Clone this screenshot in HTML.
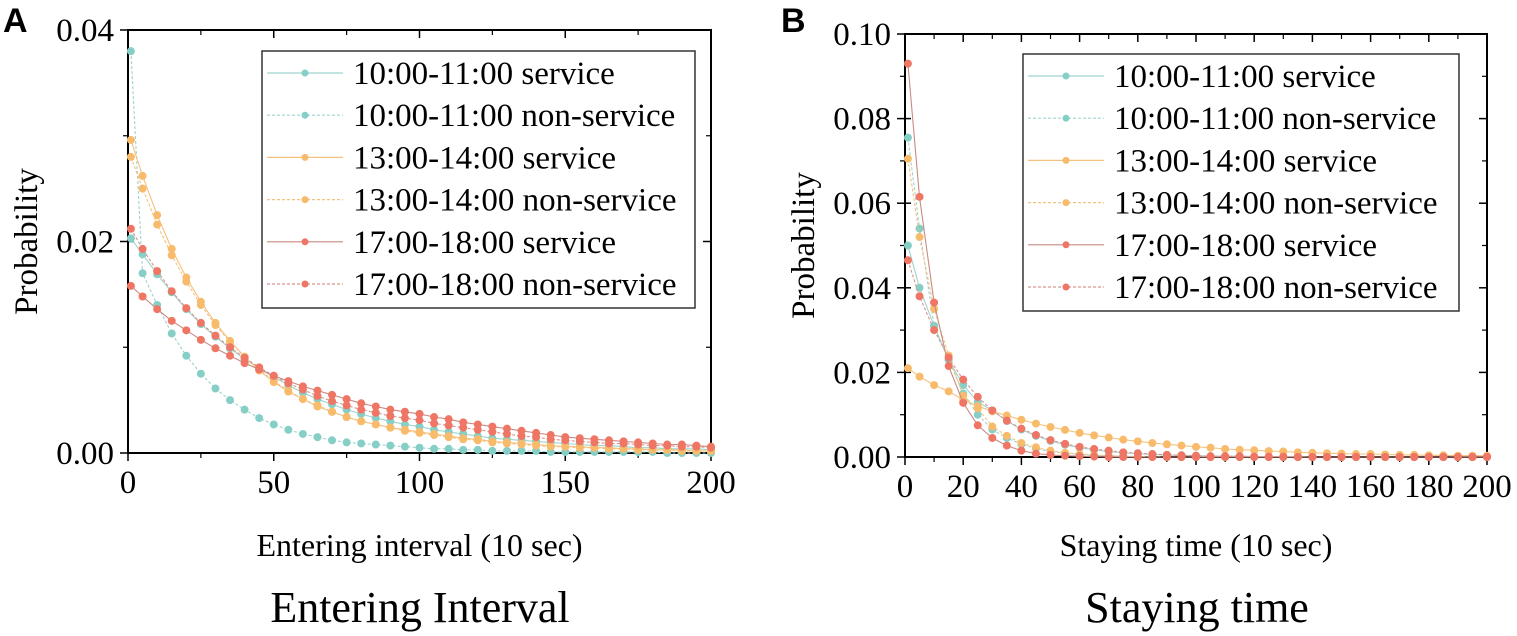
<!DOCTYPE html>
<html><head><meta charset="utf-8"><style>
html,body{margin:0;padding:0;background:#fff;}
svg{display:block;}
svg text{font-family:"Liberation Serif",serif;}
svg text.bold{font-family:"Liberation Sans",sans-serif;font-weight:bold;}
</style></head><body>
<svg id="fig" width="1517" height="636" viewBox="0 0 1517 636" xmlns="http://www.w3.org/2000/svg">
<text class="bold" x="3" y="32" font-size="34">A</text>
<text class="bold" x="781" y="32" font-size="34">B</text>
<g id="pa"></g>
<g id="pb"></g>
</svg>
<script>
const xs = [1,5,10,15,20,25,30,35,40,45,50,55,60,65,70,75,80,85,90,95,100,105,110,115,120,125,130,135,140,145,150,155,160,165,170,175,180,185,190,195,200];
const seriesNames = ["10:00-11:00 service","10:00-11:00 non-service","13:00-14:00 service","13:00-14:00 non-service","17:00-18:00 service","17:00-18:00 non-service"];
// Panel A values
const aTealS = [.0203,.0188,.0169,.0152,.0136,.0122,.0110,.0099,.0089,.0080,.0072,.0064,.0057,.0051,.0046,.0041,.0037,.0033,.0030,.0027,.0025,.0022,.0020,.0018,.0016,.0014,.0013,.0012,.0011,.0010,.0009,.0008,.0007,.0007,.0006,.0005,.0005,.0004,.0004,.0004,.0003];
const aTealN = [.0380,.0170,.0140,.0113,.0092,.0075,.0061,.0050,.0041,.0033,.0027,.0022,.0018,.0015,.0012,.0010,.0009,.0008,.0007,.0006,.0005,.0004,.0004,.0003,.0003,.0002,.0002,.0002,.0002,.0001,.0001,.0001,.0001,.0001,.0001,.0001,.0001,0,0,0,0];
const aOrgS = [.0296,.0262,.0225,.0193,.0166,.0143,.0123,.0106,.0091,.0078,.0067,.0058,.0051,.0044,.0039,.0034,.0030,.0027,.0024,.0022,.0020,.0018,.0016,.0014,.0013,.0011,.0010,.0009,.0008,.0007,.0006,.0006,.0005,.0005,.0004,.0004,.0003,.0003,.0003,.0002,.0002];
const aOrgN = [.0280,.0250,.0216,.0187,.0162,.0140,.0121,.0105,.0091,.0079,.0068,.0059,.0051,.0045,.0039,.0034,.0030,.0027,.0024,.0021,.0019,.0017,.0015,.0013,.0012,.0010,.0009,.0008,.0007,.0006,.0006,.0005,.0005,.0004,.0004,.0003,.0003,.0003,.0002,.0002,.0002];
const aRedS = [.0158,.0148,.0136,.0125,.0116,.0107,.0099,.0092,.0085,.0079,.0073,.0068,.0063,.0059,.0055,.0051,.0047,.0044,.0041,.0039,.0037,.0034,.0032,.0029,.0027,.0025,.0023,.0021,.0019,.0017,.0015,.0014,.0013,.0012,.0011,.0010,.0009,.0008,.0008,.0007,.0006];
const aRedN = [.0212,.0193,.0172,.0153,.0137,.0123,.0111,.0100,.0090,.0081,.0073,.0066,.0060,.0054,.0049,.0045,.0041,.0038,.0035,.0033,.0031,.0028,.0026,.0024,.0022,.0020,.0018,.0016,.0015,.0013,.0012,.0011,.0010,.0009,.0009,.0008,.0007,.0007,.0006,.0006,.0005];
// Panel B values
const bTealS = [.050,.040,.031,.023,.017,.013,.011,.0085,.0065,.0050,.0038,.0029,.0022,.0017,.0013,.0010,.0008,.0006,.0005,.0004,.0003,.0002,.0002,.0002,.0001,.0001,.0001,.0001,0,0,0,0,0,0,0,0,0,0,0,0,0];
const bTealN = [.0755,.054,.031,.023,.015,.010,.0065,.0045,.0030,.0020,.0013,.0009,.0006,.0004,.0003,.0002,.0001,.0001,0,0,0,0,0,0,0,0,0,0,0,0,0,0,0,0,0,0,0,0,0,0,0];
const bOrgS = [.021,.019,.017,.0155,.0135,.012,.0108,.0098,.0088,.0079,.0071,.0064,.0057,.0051,.0046,.0041,.0037,.0033,.0030,.0027,.0024,.0022,.0019,.0017,.0016,.0014,.0013,.0011,.0010,.0009,.0008,.0007,.0007,.0006,.0005,.0005,.0004,.0004,.0003,.0003,.0003];
const bOrgN = [.0705,.052,.035,.024,.0145,.0115,.0072,.0050,.0033,.0023,.0015,.0010,.0007,.0005,.0003,.0002,.0001,0,0,0,0,0,0,0,0,0,0,0,0,0,0,0,0,0,0,0,0,0,0,0,0];
const bRedS = [.093,.0615,.0365,.0215,.0128,.0075,.0045,.0027,.0015,.0008,.0005,.0003,.0002,.0001,0,0,0,0,0,0,0,0,0,0,0,0,0,0,0,0,0,0,0,0,0,0,0,0,0,0,0];
const bRedN = [.0465,.038,.030,.0235,.0183,.0142,.011,.0086,.0067,.0052,.0040,.0031,.0024,.0019,.0015,.0011,.0009,.0007,.0005,.0004,.0003,.0002,.0002,.0002,.0001,.0001,.0001,0,0,0,0,0,0,0,0,0,0,0,0,0,0];
const aYTicks = ["0.00","0.02","0.04"];
const aXTicks = ["0","50","100","150","200"];
const bYTicks = ["0.00","0.02","0.04","0.06","0.08","0.10"];
const bXTicks = ["0","20","40","60","80","100","120","140","160","180","200"];

const NS = "http://www.w3.org/2000/svg";
const SERIF = '"Liberation Serif", serif';
const styles = [
 {c:"#86cfc7", lc:"#9fd3cd", dash:null},
 {c:"#86cfc7", lc:"#9fd3cd", dash:"3,2"},
 {c:"#f8bb6c", lc:"#f5c17e", dash:null},
 {c:"#f8bb6c", lc:"#f5c17e", dash:"3,2"},
 {c:"#ef7565", lc:"#c98a82", dash:null},
 {c:"#ef7565", lc:"#d9958c", dash:"3,2"}
];
function mk(parent, tag, attrs, text){
  const e = document.createElementNS(NS, tag);
  for (const k in attrs) e.setAttribute(k, attrs[k]);
  if (tag === "text") e.setAttribute("font-family", SERIF);
  if (text !== undefined) e.textContent = text;
  parent.appendChild(e);
  return e;
}
function panel(g, cfg){
  const {L,R,T,B,xmax,ymax,xTicks,yTicks,xMinor,yMinor,series,legend,xTitle,title,titleX,xs2} = cfg;
  const sx = v => L + v/xmax*(R-L);
  const sy = v => B - v/ymax*(B-T);
  const frame = mk(g,"rect",{x:L,y:T,width:R-L,height:B-T,fill:"none",stroke:"#000","stroke-width":2});
  
  
  xTicks.forEach(t=>{
    const v = parseFloat(t), x = sx(v);
    mk(g,"line",{x1:x,y1:B,x2:x,y2:B+8,stroke:"#000","stroke-width":1.5});
    mk(g,"line",{x1:x,y1:T,x2:x,y2:T+8,stroke:"#000","stroke-width":1.5});
    const lb = mk(g,"text",{x:x,y:B+40,"text-anchor":"middle","font-size":33},t);
    
    
  });
  xMinor.forEach(v=>{
    const x = sx(v);
    mk(g,"line",{x1:x,y1:B,x2:x,y2:B+5,stroke:"#000","stroke-width":1.2});
    mk(g,"line",{x1:x,y1:T,x2:x,y2:T+5,stroke:"#000","stroke-width":1.2});
  });
  yTicks.forEach(t=>{
    const v = parseFloat(t), y = sy(v);
    mk(g,"line",{x1:L-8,y1:y,x2:L+6,y2:y,stroke:"#000","stroke-width":1.5});
    mk(g,"line",{x1:R-8,y1:y,x2:R,y2:y,stroke:"#000","stroke-width":1.5});
    const lb = mk(g,"text",{x:L-14,y:y+11,"text-anchor":"end","font-size":33},t);
    
    
  });
  yMinor.forEach(v=>{
    const y = sy(v);
    mk(g,"line",{x1:L-5,y1:y,x2:L,y2:y,stroke:"#000","stroke-width":1.2});
    mk(g,"line",{x1:R-5,y1:y,x2:R,y2:y,stroke:"#000","stroke-width":1.2});
  });
  series.forEach((arr,i)=>{
    const st = styles[i];
    const sg = mk(g,"g",{});
    
    
    const pts = arr.map((v,k)=>sx(xs2[k]).toFixed(1)+","+sy(v).toFixed(1)).join(" ");
    const pl = mk(sg,"polyline",{points:pts,fill:"none",stroke:st.lc,"stroke-width":1.1});
    if (st.dash) pl.setAttribute("stroke-dasharray",st.dash);
    
    
    arr.forEach((v,k)=>{
      const c = mk(sg,"circle",{cx:sx(xs2[k]),cy:sy(v),r:4,fill:st.c});
      
      
    });
  });
  const lg = mk(g,"g",{});
  
  
  mk(lg,"rect",{x:legend.x,y:legend.y,width:legend.w,height:legend.h,fill:"#fff",stroke:"#333","stroke-width":1.5});
  seriesNames.forEach((n,i)=>{
    const st = styles[i];
    const y = legend.y + 22 + i*42.2;
    const e = mk(lg,"g",{});
    
    
    const ln = mk(e,"line",{x1:legend.x+5,y1:y,x2:legend.x+81,y2:y,stroke:st.lc,"stroke-width":1.2});
    if (st.dash) ln.setAttribute("stroke-dasharray",st.dash);
    mk(e,"circle",{cx:legend.x+43,cy:y,r:3.5,fill:st.c});
    mk(e,"text",{x:legend.x+91,y:y+11,"font-size":33},n);
  });
  const yt = mk(g,"text",{x:0,y:0,"font-size":33,"text-anchor":"middle",transform:`translate(${L-91},${(T+B)/2}) rotate(-90)`},"Probability");
  
  
  const xt = mk(g,"text",{x:(L+R)/2,y:556,"font-size":32,"text-anchor":"middle"},xTitle);
  
  
  const tt = mk(g,"text",{x:titleX,y:622,"font-size":44,"text-anchor":"middle"},title);
  
  
}
panel(document.getElementById("pa"),{
  L:128,R:711,T:30,B:453,xmax:200,ymax:0.04,xs2:xs,
  xTicks:aXTicks,yTicks:aYTicks,xMinor:[25,75,125,175],yMinor:[0.01,0.03],
  series:[aTealS,aTealN,aOrgS,aOrgN,aRedS,aRedN],
  legend:{x:262,y:51,w:433,h:257},
  xTitle:"Entering interval (10 sec)",title:"Entering Interval",titleX:420
});
panel(document.getElementById("pb"),{
  L:905,R:1487,T:34,B:457,xmax:200,ymax:0.10,xs2:xs,
  xTicks:bXTicks,yTicks:bYTicks,xMinor:[10,30,50,70,90,110,130,150,170,190],yMinor:[0.01,0.03,0.05,0.07,0.09],
  series:[bTealS,bTealN,bOrgS,bOrgN,bRedS,bRedN],
  legend:{x:1023,y:54,w:436,h:257},
  xTitle:"Staying time (10 sec)",title:"Staying time",titleX:1197
});
</script>
</body></html>
